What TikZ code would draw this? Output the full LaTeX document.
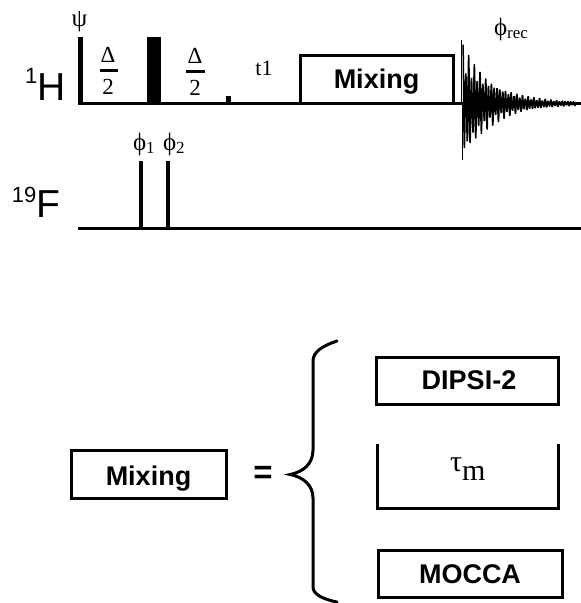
\documentclass[tikz,border=0pt]{standalone}
\usepackage{fontspec}
\setmainfont{Liberation Serif}
\setsansfont{Liberation Sans}
\begin{document}
\begin{tikzpicture}[x=1pt,y=-1pt,
  line/.style={line width=3pt,black},
  pulse/.style={line width=3.8pt,black},
  boxed/.style={draw=black,line width=3pt,fill=white,inner sep=0pt,outer sep=0pt,anchor=north west,font=\sffamily\bfseries\fontsize{27}{27}\selectfont,align=center},
  serif/.style={inner sep=0pt,outer sep=0pt,font=\fontsize{23}{23}\selectfont},
  chan/.style={inner sep=0pt,outer sep=0pt,font=\sffamily\fontsize{39}{39}\selectfont}]
\useasboundingbox (0,0) rectangle (581,603);
\fill[white] (0,0) rectangle (581,603);
% 1H channel
\draw[line] (78,103.5) -- (581,103.5);
\draw[line width=4.2pt] (80.5,37) -- (80.5,104);
\fill (147,36.5) rectangle (160.5,104);
\fill (226,96) rectangle (230.5,104);
\node[boxed,minimum width=153pt,minimum height=48pt] (mixtop) at (300,55.5) {\raisebox{-8.5pt}[0pt][0pt]{Mixing}};
% FID
\draw[line width=1.5pt,black,line join=bevel] plot[domain=0:113,samples=400]
  (463+\x,{103.5-(58*exp(-\x/30)+0.8)*cos(\x*127)*(0.78+0.22*cos(\x*61))});
\draw[line width=1.3pt] (461.5,40) -- (461.5,104);
\draw[line width=1.3pt] (462.5,104) -- (462.5,160);
% 19F channel
\draw[line] (78,228.5) -- (581,228.5);
\draw[pulse] (141,161) -- (141,229);
\draw[pulse] (168,161) -- (168,229);
% Labels
\node[serif] (psi) at (79.5,22) {\fontsize{25}{25}\selectfont ψ};
\node[serif] (d1) at (108,55) {Δ};
\draw[line width=3.4pt] (99.5,70.5) -- (118,70.5);
\node[serif] (n1) at (108,87) {2};
\node[serif] (d2) at (195,55.5) {Δ};
\draw[line width=3.4pt] (186,71.5) -- (205,71.5);
\node[serif] (n2) at (195,87.5) {2};
\node[serif] (t1) at (264,68) {\fontsize{22}{22}\selectfont t1};
\node[serif,anchor=base west] (phirec) at (494,35) {\fontsize{25}{25}\selectfont ϕ\raisebox{-3pt}{\fontsize{17}{17}\selectfont rec}};
\node[serif,anchor=base west] (phi1) at (133,150) {\fontsize{25}{25}\selectfont ϕ\raisebox{-3pt}{\fontsize{17}{17}\selectfont 1}};
\node[serif,anchor=base west] (phi2) at (163,150) {\fontsize{25}{25}\selectfont ϕ\raisebox{-3pt}{\fontsize{17}{17}\selectfont 2}};
\node[chan,anchor=base west] (h) at (25,100) {\raisebox{17pt}{\fontsize{22}{22}\selectfont 1}H};
\node[chan,anchor=base west] (f) at (12,217) {\raisebox{15pt}{\fontsize{22}{22}\selectfont 19}F};
% Lower part
\node[boxed,minimum width=155pt,minimum height=48pt] (mixbot) at (71,450) {\raisebox{-11pt}[0pt][0pt]{Mixing}};
\node[inner sep=0pt,font=\sffamily\bfseries\fontsize{33}{33}\selectfont] (eq) at (263,475) {=};
\draw[line width=3pt,line cap=round] (337,341) .. controls (322,346) and (313,352) .. (313,361)
  -- (313,450) .. controls (313,464) and (303,472) .. (290,474.5)
  .. controls (303,477) and (313,485) .. (313,498) -- (313,587)
  .. controls (313,594) and (322,599) .. (337,602);
\node[boxed,minimum width=182pt,minimum height=47pt] (dipsi) at (376,357) {\hspace*{4pt}DIPSI-2};
\draw[line] (377,444) -- (377,508) -- (558,508) -- (558,444);
\node[serif,anchor=base west] (tau) at (450,480) {\fontsize{30}{30}\selectfont\raisebox{9pt}{τ}m};
\node[boxed,minimum width=184pt,minimum height=47pt] (mocca) at (378,550.5) {MOCCA};
\end{tikzpicture}
\end{document}
